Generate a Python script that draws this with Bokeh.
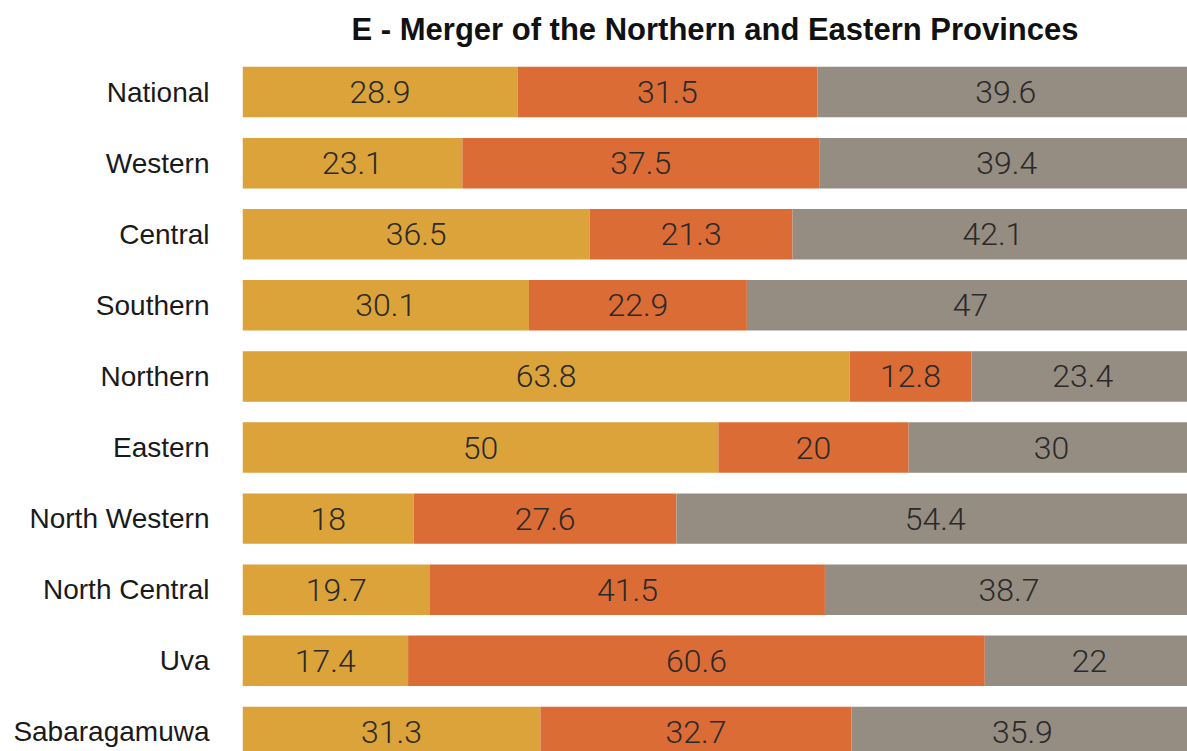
import numpy as np
from bokeh.plotting import figure
from bokeh.models import Range1d, ColumnDataSource, FixedTicker, LabelSet
from bokeh.core.properties import value
from bokeh.embed import file_html
from bokeh.resources import INLINE

title_text = "E - Merger of the Northern and Eastern Provinces"
regions = ["National", "Western", "Central", "Southern", "Northern", "Eastern",
           "North Western", "North Central", "Uva", "Sabaragamuwa"]
series_names = ["Agree", "Disagree", "Don't know"]
agree = [28.9, 23.1, 36.5, 30.1, 63.8, 50, 18, 19.7, 17.4, 31.3]
disagree = [31.5, 37.5, 21.3, 22.9, 12.8, 20, 27.6, 41.5, 60.6, 32.7]
dont_know = [39.6, 39.4, 42.1, 47, 23.4, 30, 54.4, 38.7, 22, 35.9]
colors = ["#DBA339", "#DC6C36", "#958C82"]

W, H = 1187, 751
LEFT, TOP = 242, 55
pitch = 71.2

pos = list(range(len(regions)))
frame_h = H - TOP
y_end = -0.5
y_start = y_end + frame_h / pitch

p = figure(width=W, height=H, output_backend="svg", toolbar_location=None,
           x_range=Range1d(0, 99.3), y_range=Range1d(y_start, y_end),
           x_axis_location=None, min_border_left=LEFT, min_border_top=TOP,
           min_border_right=0, min_border_bottom=0)

series = [agree, disagree, dont_know]
cum = np.zeros(len(regions))
for name, vals, col in zip(series_names, series, colors):
    vals = np.array(vals, dtype=float)
    left = cum.copy()
    right = cum + vals
    src = ColumnDataSource(dict(y=pos, left=left, right=right,
                                mid=(left + right) / 2,
                                txt=[f"{v:g}" for v in vals]))
    p.hbar(y="y", left="left", right="right", height=0.71, source=src,
           fill_color=col, line_color=None, name=name)
    p.add_layout(LabelSet(x="mid", y="y", text="txt", source=src,
                          text_align="center", text_baseline="middle",
                          text_font=value("'Roboto Light', 'Liberation Sans', sans-serif"),
                          text_font_size=value("32px"),
                          text_color="#2a2a2a"))
    cum = right

ax = p.yaxis[0]
ax.ticker = FixedTicker(ticks=pos)
ax.major_label_overrides = {i: r for i, r in zip(pos, regions)}
ax.axis_line_color = None
ax.major_tick_line_color = None
ax.minor_tick_line_color = None
ax.major_tick_out = 0
ax.major_tick_in = 0
ax.major_label_standoff = 33
ax.major_label_text_font = "Liberation Sans"
ax.major_label_text_font_size = "28px"
ax.major_label_text_color = "#1a1a1a"

p.xgrid.visible = False
p.ygrid.visible = False
p.outline_line_color = None
p.background_fill_color = "white"
p.border_fill_color = "white"

p.title.text = title_text
p.title.align = "center"
p.title.standoff = 19
p.title.text_font = "Liberation Sans"
p.title.text_font_size = "31px"
p.title.text_font_style = "bold"
p.title.text_color = "#111111"

open("out.html", "w").write(file_html(p, INLINE))
